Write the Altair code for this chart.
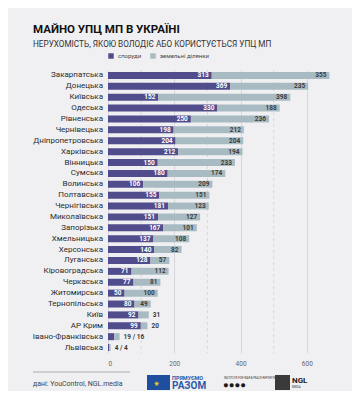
import altair as alt
import pandas as pd

regions = ["Закарпатська", "Донецька", "Київська", "Одеська", "Рівненська",
           "Чернівецька", "Дніпропетровська", "Харківська", "Вінницька", "Сумська",
           "Волинська", "Полтавська", "Чернігівська", "Миколаївська", "Запорізька",
           "Хмельницька", "Херсонська", "Луганська", "Кіровоградська", "Черкаська",
           "Житомирська", "Тернопільська", "Київ", "АР Крим", "Івано-Франківська",
           "Львівська"]
buildings = [313, 369, 152, 330, 250, 198, 204, 212, 150, 180, 106, 155, 181,
             151, 167, 137, 140, 128, 71, 77, 50, 80, 92, 99, 19, 4]
land = [355, 235, 398, 188, 236, 212, 204, 194, 233, 174, 209, 151, 123, 127,
        101, 108, 82, 57, 112, 81, 100, 49, 31, 20, 16, 4]
outside_land = ["Київ", "АР Крим"]
combined = ["Івано-Франківська", "Львівська"]
x_ticks = [0, 200, 400, 600]
x_minor = [100, 300, 500]
types = ["споруди", "земельні ділянки"]
colors = ["#514c8c", "#a8bbc3"]

FONT = "Roboto"

rows = []
for r, b, l in zip(regions, buildings, land):
    rows.append(dict(region=r, type=types[0], start=0, end=b, order=0))
    rows.append(dict(region=r, type=types[1], start=b, end=b + l, order=1))
bars_df = pd.DataFrame(rows)

in_b, in_l, out_l = [], [], []
for r, b, l in zip(regions, buildings, land):
    if r in combined:
        out_l.append(dict(region=r, pos=b + l, label=f"{b} / {l}"))
        continue
    in_b.append(dict(region=r, pos=b, label=str(b)))
    if r in outside_land:
        out_l.append(dict(region=r, pos=b + l, label=str(l)))
    else:
        in_l.append(dict(region=r, pos=b + l, label=str(l)))

xscale = alt.Scale(domain=[0, 700], nice=False)
ysort = regions

x_axis = alt.Axis(values=x_ticks, grid=True, gridColor="#cfd0d4",
                  gridWidth=0.8, domain=False, ticks=False,
                  labelFontSize=6.5, labelColor="#666666",
                  labelPadding=7, title=None, labelFont=FONT)
y_axis = alt.Axis(title=None, domain=False, ticks=False, labels=False,
                  grid=False)

grid_minor = alt.Chart(pd.DataFrame({"v": x_minor})).mark_rule(
    color="#cfd0d4", strokeDash=[3, 3], strokeWidth=0.8
).encode(x=alt.X("v:Q", scale=xscale, axis=x_axis))

bars = alt.Chart(bars_df).mark_bar(size=7).encode(
    x=alt.X("start:Q", scale=xscale, axis=x_axis),
    x2="end:Q",
    y=alt.Y("region:N", sort=ysort, axis=y_axis),
    color=alt.Color("type:N", scale=alt.Scale(domain=types, range=colors),
                    legend=alt.Legend(title=None, orient="none", legendX=0,
                                      legendY=-17, direction="horizontal",
                                      symbolType="square", symbolSize=30,
                                      labelFontSize=6, labelColor="#444444",
                                      labelFont=FONT, columnPadding=8,
                                      symbolStrokeWidth=0)),
    order=alt.Order("order:Q"),
)

region_labels = alt.Chart(pd.DataFrame({"region": regions})).mark_text(
    align="right", baseline="middle", fontSize=8, color="#2b2b2b", font=FONT
).encode(
    x=alt.value(-5),
    y=alt.Y("region:N", sort=ysort, axis=y_axis),
    text="region:N",
)


def value_text(records, align, dx, color):
    return alt.Chart(pd.DataFrame(records)).mark_text(
        align=align, dx=dx, fontSize=6.5, color=color, fontWeight="bold", font=FONT
    ).encode(
        x=alt.X("pos:Q", scale=xscale, axis=x_axis),
        y=alt.Y("region:N", sort=ysort, axis=y_axis),
        text="label:N",
    )


t_b = value_text(in_b, "right", -3, "white")
t_l = value_text(in_l, "right", -3, "#3c3c3c")
t_o = value_text(out_l, "left", 4, "#3c3c3c")

one = pd.DataFrame({"a": [0]})


def deco_text(txt, x, y, size, color="#222222", weight="normal"):
    return alt.Chart(one).mark_text(
        text=txt, align="left", baseline="alphabetic", fontSize=size,
        color=color, fontWeight=weight, font=FONT
    ).encode(x=alt.value(x), y=alt.value(y))


title = deco_text("МАЙНО УПЦ МП В УКРАЇНІ", -75, -37, 11.5, "#111111", "bold")
subtitle = deco_text("НЕРУХОМІСТЬ, ЯКОЮ ВОЛОДІЄ АБО КОРИСТУЄТЬСЯ УПЦ МП", -75, -23, 8.2, "#333333")

hr = alt.Chart(one).mark_rule(color="#999999", strokeWidth=0.8).encode(
    x=alt.value(-75), x2=alt.value(22), y=alt.value(302))
source = deco_text("дані: YouControl, NGL.media", -75, 316, 7, "#444444")

eu = alt.Chart(one).mark_rect(color="#1f4e9e").encode(
    x=alt.value(39), x2=alt.value(62), y=alt.value(305), y2=alt.value(320))
stars = deco_text("⁕", 46, 316, 9, "#f2d230")
pr1 = deco_text("ПРЯМУЄМО", 64, 310, 5.5, "#2a5caa", "bold")
pr2 = deco_text("РАЗОМ", 64, 319, 10, "#2a5caa", "bold")
iw1 = deco_text("INSTITUTE FOR WAR & PEACE REPORTING", 116, 309, 2.8, "#333333")
iw2 = deco_text("●●●●", 115, 318, 9.5, "#1a1a1a")
ngl = alt.Chart(one).mark_rect(color="#3a3a3a").encode(
    x=alt.value(167), x2=alt.value(182), y=alt.value(305), y2=alt.value(320))
ngl1 = deco_text("NGL", 184, 313, 8, "#222222", "bold")
ngl2 = deco_text("MEDIA", 184, 318, 2.8, "#333333")

chart = alt.layer(
    grid_minor, bars, region_labels, t_b, t_l, t_o, title, subtitle, hr, source,
    eu, stars, pr1, pr2, iw1, iw2, ngl, ngl1, ngl2
).properties(
    width=232, height=283, autosize="none",
    padding={"left": 100, "top": 62, "right": 12, "bottom": 38},
    background="#f0f0f2",
).configure_view(stroke=None)

chart.save("out.html", embed_options={"renderer": "svg", "actions": False})
